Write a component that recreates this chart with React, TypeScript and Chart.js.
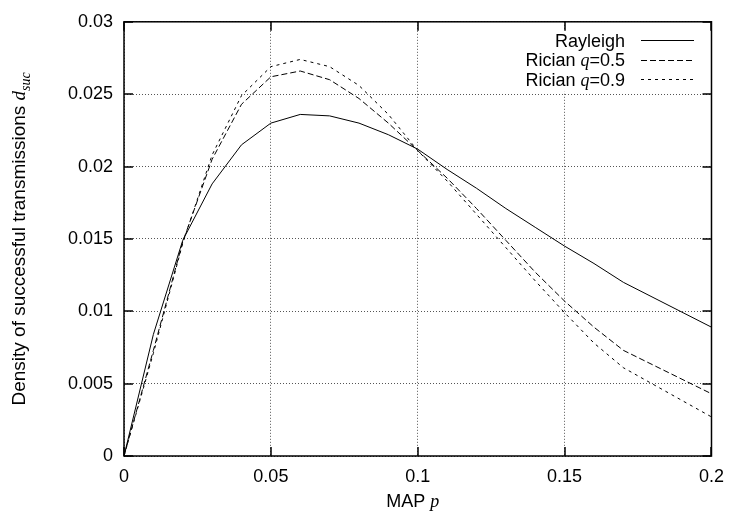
import { useEffect, useRef } from 'react';
import { Chart, registerables } from 'chart.js';

Chart.register(...registerables);

// ---- data ----
const pValues = [0, 0.01, 0.02, 0.03, 0.04, 0.05, 0.06, 0.07, 0.08, 0.09, 0.1, 0.11, 0.12, 0.13, 0.14, 0.15, 0.16, 0.17, 0.2];
const rayleigh = [0, 0.0084, 0.0149, 0.0188, 0.0215, 0.0230, 0.0236, 0.0235, 0.0230, 0.0222, 0.0212, 0.0198, 0.0185, 0.0171, 0.0158, 0.0145, 0.0133, 0.0120, 0.0089];
const ricianQ05 = [0, 0.0073, 0.0148, 0.0205, 0.0243, 0.0262, 0.0266, 0.0260, 0.0247, 0.0230, 0.0211, 0.0192, 0.0171, 0.0149, 0.0127, 0.0107, 0.0089, 0.0073, 0.0043];
const ricianQ09 = [0, 0.0071, 0.0147, 0.0208, 0.0249, 0.0269, 0.0274, 0.0269, 0.0256, 0.0236, 0.0211, 0.0190, 0.0167, 0.0144, 0.0121, 0.0099, 0.0078, 0.0061, 0.0027];

const xTicks = [0, 0.05, 0.1, 0.15, 0.2];
const yTicks = [0, 0.005, 0.01, 0.015, 0.02, 0.025, 0.03];

const seriesNames = ['Rayleigh', 'Rician q=0.5', 'Rician q=0.9'];
const seriesDash: number[][] = [[], [6, 3], [3, 4]];

const SANS = '"Liberation Sans", Arial, Helvetica, sans-serif';
const FONT = `18px ${SANS}`;
const ITAL = 'italic 18px "Liberation Serif", "Times New Roman", serif';
const TITLE_FONT = `19px ${SANS}`;
const TITLE_ITAL = 'italic 19px "Liberation Serif", "Times New Roman", serif';
const SUB = 'italic 14px "Liberation Serif", "Times New Roman", serif';

type Part = { t: string; f: string; dy?: number };

// split a label so that the single letter variable "q" is italic
function labelParts(name: string): Part[] {
  const idx = name.indexOf(' q=');
  if (idx < 0) return [{ t: name, f: FONT }];
  return [
    { t: name.slice(0, idx + 1), f: FONT },
    { t: 'q', f: ITAL },
    { t: name.slice(idx + 2), f: FONT },
  ];
}

const xTitleParts: Part[] = [
  { t: 'MAP ', f: FONT },
  { t: 'p', f: ITAL },
];
const yTitleParts: Part[] = [
  { t: 'Density of successful transmissions ', f: TITLE_FONT },
  { t: 'd', f: TITLE_ITAL },
  { t: 'suc', f: SUB, dy: 5 },
];

function partsWidth(ctx: CanvasRenderingContext2D, parts: Part[]) {
  let w = 0;
  for (const p of parts) {
    ctx.font = p.f;
    w += ctx.measureText(p.t).width;
  }
  return w;
}

function drawParts(ctx: CanvasRenderingContext2D, parts: Part[], x: number, y: number, align: 'left' | 'right' | 'center') {
  const w = partsWidth(ctx, parts);
  let cx = align === 'left' ? x : align === 'right' ? x - w : x - w / 2;
  ctx.textAlign = 'left';
  ctx.textBaseline = 'alphabetic';
  ctx.fillStyle = '#000';
  for (const p of parts) {
    ctx.font = p.f;
    ctx.fillText(p.t, cx, y + (p.dy || 0));
    cx += ctx.measureText(p.t).width;
  }
}

const fmt = (v: number) => String(Number(Number(v).toFixed(4)));

const framePlugin = {
  id: 'gnuplotFrame',
  afterDraw(chart: any) {
    const ctx: CanvasRenderingContext2D = chart.ctx;
    const { left, right, top, bottom } = chart.chartArea;
    const xs = chart.scales.x;
    const ys = chart.scales.y;
    ctx.save();

    // legend background (covers grid lines)
    ctx.fillStyle = '#fff';
    ctx.fillRect(512, top + 8, right - 512 - 10, 62);

    // tick marks (inward, mirrored)
    ctx.strokeStyle = '#000';
    ctx.lineWidth = 1.5;
    ctx.setLineDash([]);
    const tl = 9;
    ctx.beginPath();
    for (const v of xTicks) {
      const px = Math.round(xs.getPixelForValue(v));
      ctx.moveTo(px, bottom);
      ctx.lineTo(px, bottom - tl);
      ctx.moveTo(px, top);
      ctx.lineTo(px, top + tl);
    }
    for (const v of yTicks) {
      const py = Math.round(ys.getPixelForValue(v));
      ctx.moveTo(left, py);
      ctx.lineTo(left + tl, py);
      ctx.moveTo(right, py);
      ctx.lineTo(right - tl, py);
    }
    ctx.stroke();

    // border
    ctx.strokeRect(left, top, right - left, bottom - top);

    // legend
    const textRight = 625;
    const lineX0 = 641;
    const lineX1 = 694;
    const baseY = top + 25;
    const rowH = 19.5;
    seriesNames.forEach((name, i) => {
      const by = baseY + i * rowH;
      drawParts(ctx, labelParts(name), textRight, by, 'right');
      ctx.strokeStyle = '#000';
      ctx.lineWidth = 1;
      ctx.setLineDash(seriesDash[i]);
      ctx.beginPath();
      ctx.moveTo(lineX0, Math.round(by - 6.5) + 0.5);
      ctx.lineTo(lineX1, Math.round(by - 6.5) + 0.5);
      ctx.stroke();
    });
    ctx.setLineDash([]);

    // axis titles
    drawParts(ctx, xTitleParts, (left + right) / 2 - 5, 507, 'center');
    ctx.save();
    ctx.translate(25, (top + bottom) / 2);
    ctx.rotate(-Math.PI / 2);
    drawParts(ctx, yTitleParts, 0, 0, 'center');
    ctx.restore();

    ctx.restore();
  },
};

export default function App() {
  const ref = useRef<HTMLCanvasElement | null>(null);

  useEffect(() => {
    const canvas = ref.current;
    if (!canvas) return;
    const series = [rayleigh, ricianQ05, ricianQ09];
    const chart = new Chart(canvas, {
      type: 'line',
      data: {
        datasets: series.map((vals, i) => ({
          label: seriesNames[i],
          data: pValues.map((p, j) => ({ x: p, y: vals[j] })),
          borderColor: '#000',
          borderWidth: 1,
          borderDash: seriesDash[i],
          pointRadius: 0,
          tension: 0,
          fill: false,
        })),
      },
      options: {
        animation: false,
        responsive: false,
        devicePixelRatio: 1,
        layout: { padding: { top: 14, right: 16, left: 0, bottom: 0 } },
        plugins: { legend: { display: false }, tooltip: { enabled: false } },
        scales: {
          x: {
            type: 'linear',
            min: 0,
            max: 0.2,
            afterBuildTicks: (s: any) => {
              s.ticks = xTicks.map((v) => ({ value: v }));
            },
            afterFit: (s: any) => {
              s.height = 61;
            },
            grid: { color: '#555', lineWidth: 1, drawTicks: false },
            border: { display: false, dash: [1, 2] },
            ticks: {
              color: '#000',
              font: { family: SANS, size: 18 },
              padding: 10,
              maxRotation: 0,
              autoSkip: false,
              callback: (v: any) => fmt(v),
            },
          },
          y: {
            type: 'linear',
            min: 0,
            max: 0.03,
            afterBuildTicks: (s: any) => {
              s.ticks = yTicks.map((v) => ({ value: v }));
            },
            afterFit: (s: any) => {
              s.width = 124;
            },
            grid: { color: '#555', lineWidth: 1, drawTicks: false },
            border: { display: false, dash: [1, 2] },
            ticks: {
              color: '#000',
              font: { family: SANS, size: 18 },
              padding: 11,
              autoSkip: false,
              callback: (v: any) => fmt(v),
            },
          },
        },
      },
      plugins: [framePlugin],
    } as any);
    return () => chart.destroy();
  }, []);

  return (
    <div style={{ position: 'fixed', left: 0, top: 0, width: 734, height: 517, background: '#fff' }}>
      <canvas ref={ref} width={734} height={517} style={{ width: 734, height: 517, display: 'block' }} />
    </div>
  );
}
